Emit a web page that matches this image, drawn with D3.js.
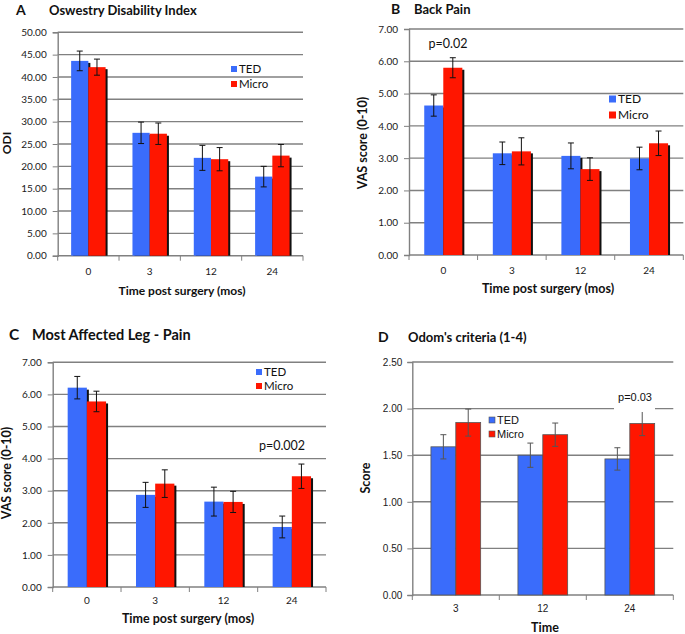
<!DOCTYPE html>
<html><head><meta charset="utf-8">
<script src="https://cdn.jsdelivr.net/npm/d3@7"></script>
<style>body{margin:0;background:#fff}svg{display:block}</style>
</head><body>
<svg id="c" width="685" height="634"></svg>
<script>
// ---------- data ----------
const catsTime = ["0", "3", "12", "24"];
const catsOdom = ["3", "12", "24"];
const seriesNames = ["TED", "Micro"];

const odiTED = [43.6, 27.5, 21.9, 17.7];
const odiTEDErr = [2.2, 2.4, 2.8, 2.3];
const odiMicro = [42.2, 27.3, 21.6, 22.4];
const odiMicroErr = [1.8, 2.4, 2.6, 2.5];

const backTED = [4.63, 3.15, 3.07, 2.99];
const backTEDErr = [0.33, 0.35, 0.40, 0.35];
const backMicro = [5.80, 3.21, 2.66, 3.46];
const backMicroErr = [0.31, 0.42, 0.35, 0.38];

const legTED = [6.21, 2.87, 2.66, 1.87];
const legTEDErr = [0.35, 0.39, 0.45, 0.34];
const legMicro = [5.78, 3.22, 2.65, 3.45];
const legMicroErr = [0.32, 0.43, 0.33, 0.38];

const odomTED = [1.59, 1.50, 1.46];
const odomTEDErr = [0.13, 0.13, 0.12];
const odomMicro = [1.85, 1.72, 1.84];
const odomMicroErr = [0.145, 0.125, 0.13];

const ticksODI = [0, 5, 10, 15, 20, 25, 30, 35, 40, 45, 50];
const ticksVAS = [0, 1, 2, 3, 4, 5, 6, 7];
const ticksOdom = [0, 0.5, 1, 1.5, 2, 2.5];

const colors = {TED: "#3a6cfb", Micro: "#ff1600"};

const svg = d3.select("#c");
const CAL = "Lato, 'Open Sans', sans-serif";
const ARL = "'Liberation Sans', Arial, sans-serif";

function panel(o) {
  const g = svg.append("g");
  const x = d3.scaleBand().domain(o.cats).range([o.left, o.right]);
  const y = d3.scaleLinear().domain([0, o.ticks[o.ticks.length - 1]]).range([o.bottom, o.top]);
  const sub = d3.scaleBand().domain(seriesNames).range([0, x.bandwidth()]).paddingInner(0).paddingOuter(o.outer);

  // gridlines
  g.selectAll(".grid").data(o.ticks.slice(1)).join("line")
    .attr("x1", o.left).attr("x2", o.right)
    .attr("y1", d => y(d)).attr("y2", d => y(d))
    .attr("stroke", "#808080").attr("stroke-width", 1.4);

  // y axis
  const ya = d3.axisLeft(y).tickValues(o.ticks).tickFormat(d3.format(".2f")).tickSize(5).tickPadding(o.tickPad);
  const yg = g.append("g").attr("transform", `translate(${o.left},0)`).call(ya);
  yg.select(".domain").attr("stroke", "#808080").attr("stroke-width", 1.4);
  yg.selectAll(".tick line").attr("stroke", "#808080");
  yg.selectAll("text").attr("font-family", o.tickFont).attr("font-size", o.tickSize).attr("fill", "#1a1a1a");

  // x axis
  const xg = g.append("g").attr("transform", `translate(0,${o.bottom})`);
  xg.append("line").attr("x1", o.left).attr("x2", o.right).attr("stroke", "#808080").attr("stroke-width", 1.4);
  const bounds = o.cats.map(c => x(c)).concat([o.right]);
  xg.selectAll(".xt").data(bounds).join("line")
    .attr("x1", d => d).attr("x2", d => d).attr("y1", 0).attr("y2", 5)
    .attr("stroke", "#808080");
  xg.selectAll(".xl").data(o.cats).join("text")
    .attr("x", d => x(d) + x.bandwidth() / 2).attr("y", o.xLabelDy)
    .attr("text-anchor", "middle").attr("font-family", o.tickFont).attr("font-size", o.tickSize).attr("fill", "#1a1a1a")
    .text(d => d);

  // bars
  const rows = [];
  o.cats.forEach((c, i) => {
    rows.push({c, s: "TED", v: o.ted[i], e: o.tedErr[i]});
    rows.push({c, s: "Micro", v: o.micro[i], e: o.microErr[i]});
  });
  if (o.shadow) {
    g.selectAll(".sh").data(rows).join("rect")
      .attr("x", d => x(d.c) + sub(d.s) + 2).attr("y", d => y(d.v) + 2)
      .attr("width", sub.bandwidth()).attr("height", d => o.bottom - y(d.v) - 2)
      .attr("fill", "#111");
  }
  g.selectAll(".bar").data(rows).join("rect")
    .attr("x", d => x(d.c) + sub(d.s)).attr("y", d => y(d.v))
    .attr("width", sub.bandwidth()).attr("height", d => o.bottom - y(d.v))
    .attr("fill", d => colors[d.s])
    .attr("stroke", o.outline ? "#555" : "none").attr("stroke-width", 0.8);

  // error bars
  const eb = g.selectAll(".eb").data(rows).join("g")
    .attr("transform", d => `translate(${x(d.c) + sub(d.s) + sub.bandwidth() / 2},0)`);
  const ec = o.outline ? "#555" : "#111";
  eb.append("line").attr("y1", d => y(d.v + d.e)).attr("y2", d => y(d.v - d.e)).attr("stroke", ec).attr("stroke-width", 1);
  eb.append("line").attr("x1", -3).attr("x2", 3).attr("y1", d => y(d.v + d.e)).attr("y2", d => y(d.v + d.e)).attr("stroke", ec);
  eb.append("line").attr("x1", -3).attr("x2", 3).attr("y1", d => y(d.v - d.e)).attr("y2", d => y(d.v - d.e)).attr("stroke", ec);

  // legend
  const lg = g.append("g").attr("transform", `translate(${o.legX},${o.legY})`);
  seriesNames.forEach((s, i) => {
    lg.append("rect").attr("x", 0).attr("y", i * o.legGap - o.legSq / 2).attr("width", o.legSq).attr("height", o.legSq)
      .attr("fill", colors[s]).attr("stroke", o.outline ? "#555" : "none").attr("stroke-width", 0.6);
    lg.append("text").attr("x", o.legSq + 2).attr("y", i * o.legGap).attr("dy", "0.35em")
      .attr("font-family", o.legFont).attr("font-size", o.legSize).attr("fill", "#111").text(s);
  });

  // p value
  if (o.p) {
    if (o.pBg) {
      g.append("rect").attr("x", o.pBg[0]).attr("y", o.pBg[1]).attr("width", o.pBg[2]).attr("height", o.pBg[3]).attr("fill", "#fff");
    }
    g.append("text").attr("x", o.p[0]).attr("y", o.p[1]).attr("dy", "0.35em").attr("text-anchor", "middle")
      .attr("font-family", o.pFont).attr("font-size", o.pSize).attr("fill", "#111").text(o.p[2]);
  }

  // titles
  g.append("text").attr("x", o.letter[0]).attr("y", o.letter[1]).attr("dy", "0.35em")
    .attr("font-family", CAL).attr("font-weight", "bold").attr("font-size", o.titleSize + 1).attr("fill", "#111").text(o.letter[2]);
  g.append("text").attr("x", o.title[0]).attr("y", o.title[1]).attr("dy", "0.35em")
    .attr("font-family", CAL).attr("font-weight", "bold").attr("font-size", o.titleSize).attr("fill", "#111").text(o.title[2]);
  g.append("text").attr("x", o.xTitle[0]).attr("y", o.xTitle[1]).attr("dy", "0.35em").attr("text-anchor", "middle")
    .attr("font-family", CAL).attr("font-weight", "bold").attr("font-size", o.axisSize).attr("fill", "#111").text(o.xTitle[2]);
  g.append("text").attr("transform", `translate(${o.yTitle[0]},${o.yTitle[1]}) rotate(-90)`).attr("dy", "0.35em")
    .attr("text-anchor", "middle")
    .attr("font-family", CAL).attr("font-weight", "bold").attr("font-size", o.axisSize).attr("fill", "#111").text(o.yTitle[2]);
}

panel({cats: catsTime, ted: odiTED, tedErr: odiTEDErr, micro: odiMicro, microErr: odiMicroErr, ticks: ticksODI,
  left: 57.7, right: 303, top: 32.3, bottom: 255.7, outer: 0.78, shadow: true, outline: false,
  tickFont: CAL, tickSize: 10, tickPad: 6, xLabelDy: 19,
  legX: 231, legY: 69, legGap: 15, legSq: 6, legFont: CAL, legSize: 11.5,
  letter: [16, 10, "A"], title: [49, 10, "Oswestry Disability Index"], titleSize: 13,
  xTitle: [182, 291, "Time post surgery (mos)"], yTitle: [7, 143, "ODI"], axisSize: 12});

panel({cats: catsTime, ted: backTED, tedErr: backTEDErr, micro: backMicro, microErr: backMicroErr, ticks: ticksVAS,
  left: 409, right: 683.3, top: 29, bottom: 255, outer: 0.8, shadow: true, outline: false,
  tickFont: CAL, tickSize: 10, tickPad: 6, xLabelDy: 19,
  legX: 609, legY: 99, legGap: 16, legSq: 7, legFont: CAL, legSize: 12,
  p: [448, 44, "p=0.02"], pFont: CAL, pSize: 12.5,
  letter: [391, 9, "B"], title: [414, 9, "Back Pain"], titleSize: 13,
  xTitle: [548, 289, "Time post surgery  (mos)"], yTitle: [363, 143, "VAS score (0-10)"], axisSize: 12.5});

panel({cats: catsTime, ted: legTED, tedErr: legTEDErr, micro: legMicro, microErr: legMicroErr, ticks: ticksVAS,
  left: 52.7, right: 326, top: 362.3, bottom: 587, outer: 0.78, shadow: true, outline: false,
  tickFont: CAL, tickSize: 10, tickPad: 6, xLabelDy: 17,
  legX: 256, legY: 372, legGap: 14, legSq: 6, legFont: CAL, legSize: 11.5,
  p: [282, 446, "p=0.002"], pFont: CAL, pSize: 12.5,
  letter: [9, 335, "C"], title: [32, 335, "Most Affected Leg - Pain"], titleSize: 14.5,
  xTitle: [188, 619, "Time post surgery (mos)"], yTitle: [7, 473, "VAS score (0-10)"], axisSize: 12.5});

panel({cats: catsOdom, ted: odomTED, tedErr: odomTEDErr, micro: odomMicro, microErr: odomMicroErr, ticks: ticksOdom,
  left: 412.3, right: 673.3, top: 362, bottom: 595, outer: 0.75, shadow: false, outline: true,
  tickFont: ARL, tickSize: 10, tickPad: 5, xLabelDy: 17,
  legX: 489, legY: 420, legGap: 14, legSq: 6, legFont: ARL, legSize: 11,
  p: [635, 397, "p=0.03"], pFont: ARL, pSize: 11, pBg: [614, 386, 41, 26],
  letter: [378, 337, "D"], title: [408, 337, "Odom's criteria (1-4)"], titleSize: 13,
  xTitle: [545, 628, "Time"], yTitle: [366, 478, "Score"], axisSize: 12.5});
</script>
</body></html>
